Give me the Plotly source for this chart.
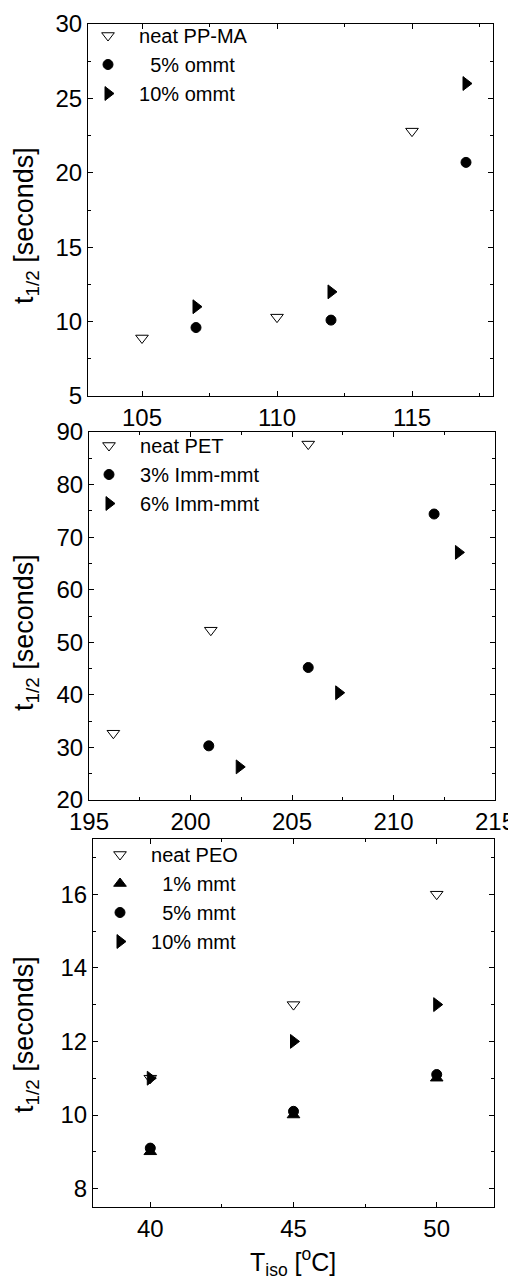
import plotly.graph_objects as go

# ---------- data ----------
# Panel 1: PP-MA
pp_x_neat = [105, 110, 115]
pp_y_neat = [8.9, 10.3, 22.8]
pp_x_5 = [107, 112, 117]
pp_y_5 = [9.6, 10.1, 20.7]
pp_x_10 = [107, 112, 117]
pp_y_10 = [11.0, 12.0, 26.0]

# Panel 2: PET
pet_x_neat = [196.2, 201.0, 205.8]
pet_y_neat = [32.7, 52.3, 87.7]
pet_x_3 = [200.9, 205.8, 212.0]
pet_y_3 = [30.3, 45.2, 74.4]
pet_x_6 = [202.4, 207.3, 213.2]
pet_y_6 = [26.3, 40.4, 67.1]

# Panel 3: PEO
peo_x = [40, 45, 50]
peo_y_neat = [11.0, 13.0, 16.0]
peo_y_1 = [9.0, 10.0, 11.0]
peo_y_5 = [9.1, 10.1, 11.1]
peo_y_10 = [11.0, 12.0, 13.0]

labels_pp = ["neat PP-MA", "5% ommt", "10% ommt"]
labels_pet = ["neat PET", "3% Imm-mmt", "6% Imm-mmt"]
labels_peo = ["neat PEO", "1% mmt", "5% mmt", "10% mmt"]

# page body has an 8px default margin; size the figure so it ends at the window edges
OFF = 8
W, H = 516 - OFF, 1280 - OFF
NB = "\u00a0"
FONT = "Arial, Liberation Sans, Helvetica, sans-serif"

fig = go.Figure()

SIZES = {"triangle-down-open": 11, "circle": 10, "triangle-right": 12, "triangle-up": 11}

def add(x, y, name, symbol, xa, ya, legend, pad=3):
    fig.add_trace(go.Scatter(
        x=x, y=y, mode="markers", name=NB * pad + name,
        xaxis=xa, yaxis=ya, legend=legend,
        marker=dict(symbol=symbol, size=SIZES[symbol], color="black",
                    line=dict(color="black", width=1)),
    ))

add(pp_x_neat, pp_y_neat, labels_pp[0], "triangle-down-open", "x", "y", "legend", 2)
add(pp_x_5, pp_y_5, labels_pp[1], "circle", "x", "y", "legend", 4)
add(pp_x_10, pp_y_10, labels_pp[2], "triangle-right", "x", "y", "legend", 2)

add(pet_x_neat, pet_y_neat, labels_pet[0], "triangle-down-open", "x2", "y2", "legend2", 2)
add(pet_x_3, pet_y_3, labels_pet[1], "circle", "x2", "y2", "legend2", 2)
add(pet_x_6, pet_y_6, labels_pet[2], "triangle-right", "x2", "y2", "legend2", 2)

add(peo_x, peo_y_neat, labels_peo[0], "triangle-down-open", "x3", "y3", "legend3", 2)
add(peo_x, peo_y_1, labels_peo[1], "triangle-up", "x3", "y3", "legend3", 4)
add(peo_x, peo_y_5, labels_peo[2], "circle", "x3", "y3", "legend3", 4)
add(peo_x, peo_y_10, labels_peo[3], "triangle-right", "x3", "y3", "legend3", 2)

def fx(wx):
    return (wx - OFF) / W

def fy(wy):
    return 1 - (wy - OFF) / H

def px_x(a, b):
    return [fx(a), fx(b)]

def px_y(top, bottom):
    return [fy(bottom), fy(top)]

axis_common = dict(
    showline=True, linecolor="black", linewidth=1, mirror="ticks",
    ticks="inside", ticklen=5, tickwidth=1, tickcolor="black",
    showgrid=False, zeroline=False, automargin=False,
    tickfont=dict(family=FONT, size=24, color="black"),
    minor=dict(ticks="inside", ticklen=3, tickwidth=1, tickcolor="black", showgrid=False),
)

fig.update_layout(
    width=W, height=H,
    margin=dict(l=0, r=0, t=0, b=0),
    paper_bgcolor="white", plot_bgcolor="white",
    font=dict(family=FONT, color="black"),
    xaxis=dict(axis_common, domain=px_x(88, 493), range=[103, 118], dtick=5, tick0=105,
               anchor="y", minor=dict(axis_common["minor"], dtick=2.5)),
    yaxis=dict(axis_common, domain=px_y(24, 396), range=[5, 30], dtick=5,
               anchor="x", minor=dict(axis_common["minor"], dtick=2.5)),
    xaxis2=dict(axis_common, domain=px_x(89, 495), range=[195, 215], dtick=5,
                anchor="y2", minor=dict(axis_common["minor"], dtick=2.5)),
    yaxis2=dict(axis_common, domain=px_y(432, 800), range=[20, 90], dtick=10,
                anchor="x2", minor=dict(axis_common["minor"], dtick=5)),
    xaxis3=dict(axis_common, domain=px_x(93, 494), range=[38, 52], dtick=5, tick0=40,
                anchor="y3", minor=dict(axis_common["minor"], dtick=2.5, tick0=40)),
    yaxis3=dict(axis_common, domain=px_y(839, 1207), range=[7.5, 17.5], dtick=2, tick0=8,
                anchor="x3", minor=dict(axis_common["minor"], dtick=1, tick0=8)),
)

leg_common = dict(bgcolor="rgba(0,0,0,0)", borderwidth=0,
                  font=dict(family=FONT, size=20, color="black"),
                  xanchor="left", yanchor="top", tracegroupgap=0)
fig.update_layout(
    legend=dict(leg_common, x=fx(88), y=fy(16)),
    legend2=dict(leg_common, x=fx(89), y=fy(426)),
    legend3=dict(leg_common, x=fx(100), y=fy(835)),
)

ytitle = "t<sub>1/2</sub> [seconds]"
for cy in [226, 633, 1035]:
    fig.add_annotation(text=ytitle, x=fx(26), y=fy(cy), xref="paper", yref="paper",
                       textangle=-90, showarrow=False, xanchor="center", yanchor="middle",
                       font=dict(family=FONT, size=27, color="black"))
fig.add_annotation(text="T<sub>iso</sub> [<sup>o</sup>C]", x=fx(293), y=fy(1262),
                   xref="paper", yref="paper", showarrow=False,
                   xanchor="center", yanchor="middle",
                   font=dict(family=FONT, size=25, color="black"))

fig.write_html("out.html")
